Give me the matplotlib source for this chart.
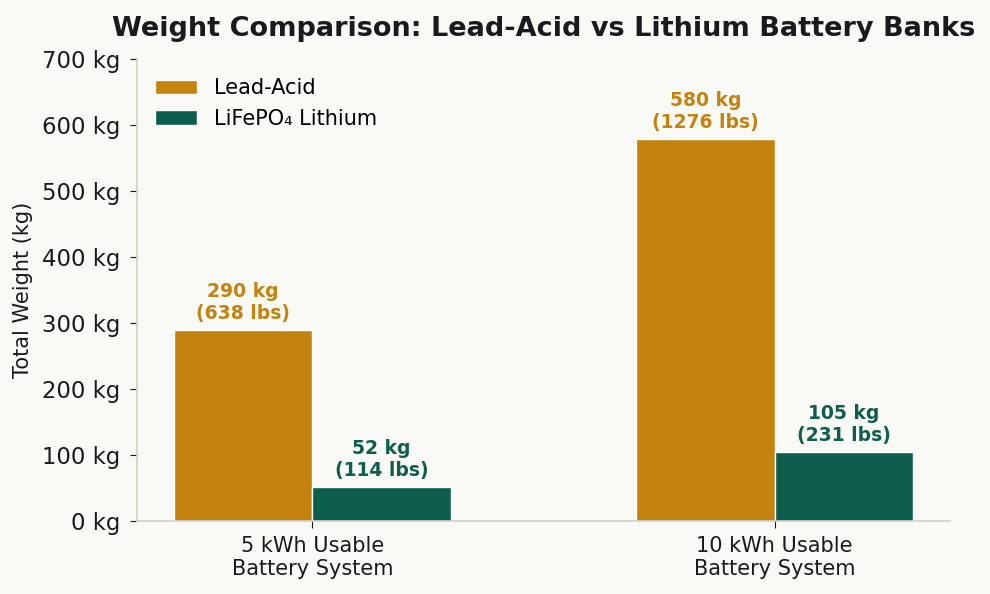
import matplotlib.pyplot as plt
import numpy as np

categories = ["5 kWh Usable\nBattery System", "10 kWh Usable\nBattery System"]
lead_acid = [290, 580]
lithium = [52, 105]
lead_lbs = [638, 1276]
lith_lbs = [114, 231]

bg = "#F9F9F5"
c_lead = "#C4820F"
c_lith = "#0E5E4D"

fig, ax = plt.subplots(figsize=(9.9, 5.94), dpi=100)
fig.patch.set_facecolor(bg)
ax.set_facecolor(bg)

x = np.arange(len(categories))
w = 0.3
b1 = ax.bar(x - w/2, lead_acid, w, color=c_lead, edgecolor="white", linewidth=1, label="Lead-Acid")
b2 = ax.bar(x + w/2, lithium, w, color=c_lith, edgecolor="white", linewidth=1, label="LiFePO₄ Lithium")

for xi, v, lb in zip(x - w/2, lead_acid, lead_lbs):
    ax.annotate(f"{v} kg\n({lb} lbs)", (xi, v), xytext=(0, 5), textcoords="offset points",
                ha="center", va="bottom", fontsize=13.5, fontweight="bold", color=c_lead)
for xi, v, lb in zip(x + w/2, lithium, lith_lbs):
    ax.annotate(f"{v} kg\n({lb} lbs)", (xi, v), xytext=(0, 5), textcoords="offset points",
                ha="center", va="bottom", fontsize=13.5, fontweight="bold", color=c_lith)

ax.set_ylim(0, 700)
ax.set_yticks(np.arange(0, 701, 100))
ax.set_yticklabels([f"{t} kg" for t in range(0, 701, 100)])
ax.set_xticks(x)
ax.set_xticklabels(categories)
ax.tick_params(axis="both", colors="#1a1a1a", length=5)
ax.tick_params(axis="y", labelsize=16.4, pad=7)
ax.tick_params(axis="x", labelsize=15, pad=6)
ax.set_ylabel("Total Weight (kg)", fontsize=15, color="#1a1a1a", labelpad=6)
ax.set_title("Weight Comparison: Lead-Acid vs Lithium Battery Banks", fontsize=19.5,
             fontweight="bold", color="#1a1a1a", pad=17)

for s in ["top", "right"]:
    ax.spines[s].set_visible(False)
for s in ["left", "bottom"]:
    ax.spines[s].set_color("#D3CFC7")
    ax.spines[s].set_linewidth(1.2)

ax.legend(loc="upper left", frameon=False, fontsize=15, handlelength=2.0)

fig.subplots_adjust(left=0.138, right=0.96, top=0.9, bottom=0.123)
fig.savefig("out.png", dpi=100, facecolor=bg)
